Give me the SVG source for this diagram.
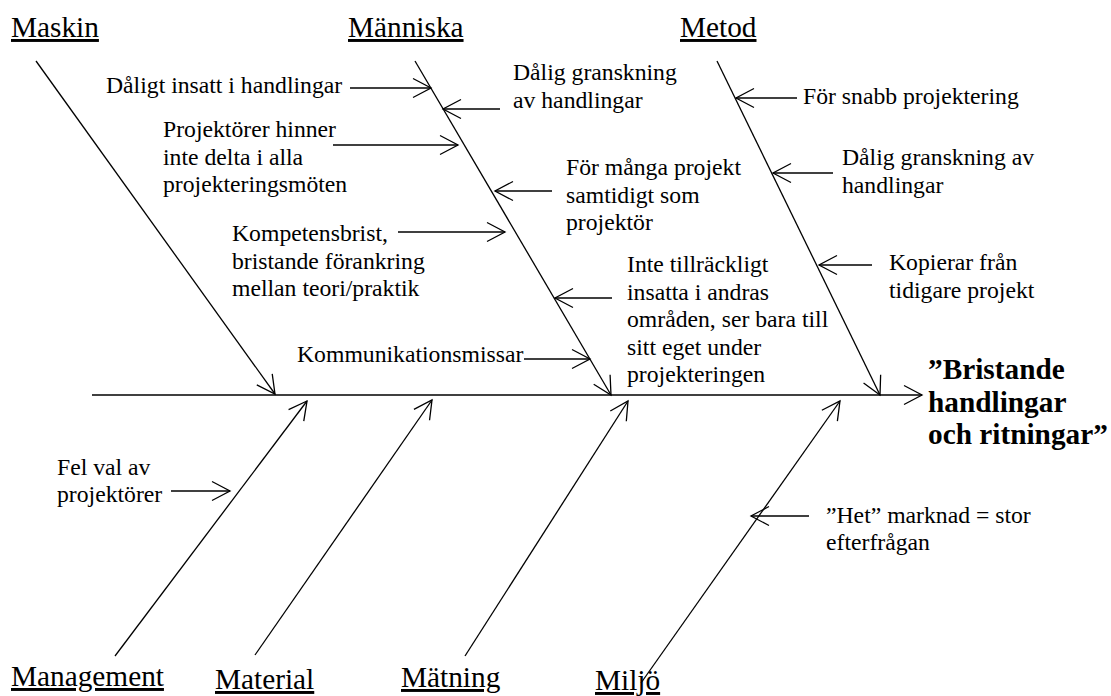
<svg xmlns="http://www.w3.org/2000/svg" width="1111" height="696" viewBox="0 0 1111 696">
  <style>
    .cat { font-family: "Liberation Serif", "Times New Roman", serif; font-size: 29.3px; text-decoration: underline; fill: #000; }
    .cause { font-family: "Liberation Serif", "Times New Roman", serif; font-size: 23.7px; fill: #000; }
    .effect { font-family: "Liberation Serif", "Times New Roman", serif; font-size: 29.3px; font-weight: bold; fill: #000; }
    .arr { stroke: #000; stroke-width: 1.3; fill: none; marker-end: url(#head); }
  </style>
  <defs>
    <marker id="head" markerUnits="userSpaceOnUse" viewBox="-20 -11 22 22" markerWidth="22" markerHeight="22" refX="0" refY="0" orient="auto" overflow="visible">
      <path d="M-18,-9.5 L0,0 L-18,9.5" fill="none" stroke="#000" stroke-width="1.3"/>
    </marker>
  </defs>
  <rect width="1111" height="696" fill="#fff"/>

  <!-- bones and cause arrows -->
  <g id="connectors">
    <!-- spine -->
    <line class="arr" x1="92" y1="395" x2="922" y2="395"/>
    <!-- upper bones -->
    <line class="arr" x1="36" y1="61" x2="275" y2="394"/>
    <line class="arr" x1="415" y1="61" x2="611" y2="395"/>
    <line class="arr" x1="717" y1="61" x2="880" y2="395"/>
    <!-- lower bones -->
    <line class="arr" x1="115" y1="656" x2="307" y2="401"/>
    <line class="arr" x1="255" y1="655" x2="432" y2="400"/>
    <line class="arr" x1="465" y1="656" x2="628" y2="401"/>
    <line class="arr" x1="641" y1="683" x2="840" y2="401"/>
    <!-- causes on Människa -->
    <line class="arr" x1="350" y1="88" x2="431" y2="88"/>
    <line class="arr" x1="500" y1="109" x2="443" y2="109"/>
    <line class="arr" x1="333" y1="145" x2="458" y2="145"/>
    <line class="arr" x1="552" y1="191" x2="495" y2="191"/>
    <line class="arr" x1="398" y1="232" x2="505" y2="232"/>
    <line class="arr" x1="612" y1="298" x2="555" y2="298"/>
    <line class="arr" x1="524" y1="359" x2="590" y2="359"/>
    <!-- causes on Metod -->
    <line class="arr" x1="797" y1="98" x2="736" y2="98"/>
    <line class="arr" x1="833" y1="173" x2="773" y2="173"/>
    <line class="arr" x1="872" y1="265" x2="819" y2="265"/>
    <!-- cause on Management -->
    <line class="arr" x1="171" y1="491" x2="230" y2="491"/>
    <!-- cause on Miljö -->
    <line class="arr" x1="809" y1="516" x2="751" y2="516"/>
  </g>

  <!-- categories -->
  <g id="cat-maskin"><text class="cat" x="11" y="37">Maskin</text></g>
  <g id="cat-manniska"><text class="cat" x="348" y="37">Människa</text></g>
  <g id="cat-metod"><text class="cat" x="680" y="37">Metod</text></g>
  <g id="cat-management"><text class="cat" x="11" y="686">Management</text></g>
  <g id="cat-material"><text class="cat" x="215" y="689">Material</text></g>
  <g id="cat-matning"><text class="cat" x="401" y="687">Mätning</text></g>
  <g id="cat-miljo"><text class="cat" x="595" y="690">Miljö</text></g>

  <!-- effect -->
  <g id="effect">
    <text class="effect" x="928" y="379">”Bristande</text>
    <text class="effect" x="928" y="411.5">handlingar</text>
    <text class="effect" x="928" y="444">och ritningar”</text>
  </g>

  <!-- causes -->
  <g id="c-daligt-insatt"><text class="cause" x="106" y="93">Dåligt insatt i handlingar</text></g>
  <g id="c-dalig-granskning-1">
    <text class="cause" x="513" y="80">Dålig granskning</text>
    <text class="cause" x="513" y="107.6">av handlingar</text>
  </g>
  <g id="c-projektorer-hinner">
    <text class="cause" x="163" y="137">Projektörer hinner</text>
    <text class="cause" x="163" y="164.6">inte delta i alla</text>
    <text class="cause" x="163" y="192">projekteringsmöten</text>
  </g>
  <g id="c-for-manga">
    <text class="cause" x="566" y="175">För många projekt</text>
    <text class="cause" x="566" y="202.6">samtidigt som</text>
    <text class="cause" x="566" y="230">projektör</text>
  </g>
  <g id="c-kompetensbrist">
    <text class="cause" x="232" y="241">Kompetensbrist,</text>
    <text class="cause" x="232" y="268.6">bristande förankring</text>
    <text class="cause" x="232" y="296">mellan teori/praktik</text>
  </g>
  <g id="c-inte-tillrackligt">
    <text class="cause" x="627" y="272">Inte tillräckligt</text>
    <text class="cause" x="627" y="299.6">insatta i andras</text>
    <text class="cause" x="627" y="327.2">områden, ser bara till</text>
    <text class="cause" x="627" y="354.8">sitt eget under</text>
    <text class="cause" x="627" y="382.4">projekteringen</text>
  </g>
  <g id="c-kommunikation"><text class="cause" x="297" y="362">Kommunikationsmissar</text></g>
  <g id="c-for-snabb"><text class="cause" x="803" y="104">För snabb projektering</text></g>
  <g id="c-dalig-granskning-2">
    <text class="cause" x="842" y="165">Dålig granskning av</text>
    <text class="cause" x="842" y="192.6">handlingar</text>
  </g>
  <g id="c-kopierar">
    <text class="cause" x="889" y="270">Kopierar från</text>
    <text class="cause" x="889" y="297.6">tidigare projekt</text>
  </g>
  <g id="c-fel-val">
    <text class="cause" x="57" y="475">Fel val av</text>
    <text class="cause" x="57" y="502">projektörer</text>
  </g>
  <g id="c-het-marknad">
    <text class="cause" x="826" y="523">”Het” marknad = stor</text>
    <text class="cause" x="826" y="550">efterfrågan</text>
  </g>
</svg>
